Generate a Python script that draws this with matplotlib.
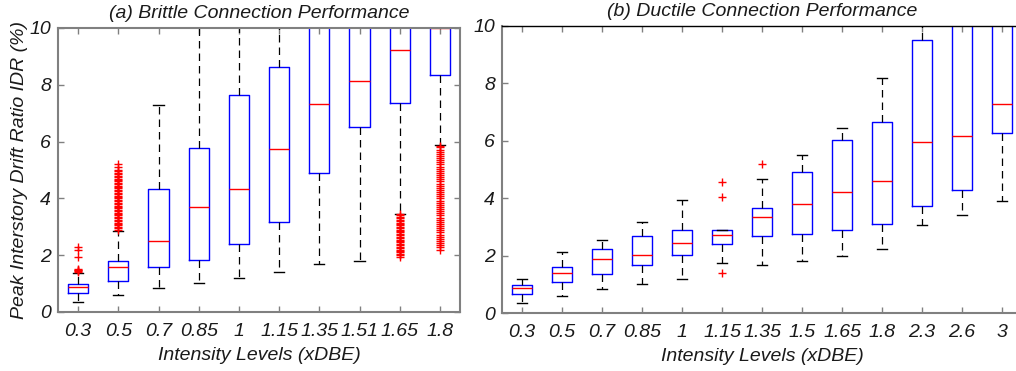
import numpy as np
import matplotlib
matplotlib.use("Agg")
from matplotlib import pyplot as plt

plt.rcParams["font.family"] = ["Liberation Sans", "DejaVu Sans"]
plt.rcParams["font.style"] = "italic"

# (a) brittle connections
levels_a = ["0.3", "0.5", "0.7", "0.85", "1", "1.15", "1.35", "1.51", "1.65", "1.8"]
whislo_a = [0.36, 0.61, 0.85, 1.02, 1.21, 1.40, 1.69, 1.78, 3.46, 5.88]
q1_a = [0.66, 1.10, 1.58, 1.82, 2.39, 3.16, 4.90, 6.52, 7.37, 8.33]
med_a = [0.89, 1.57, 2.51, 3.69, 4.32, 5.75, 7.32, 8.14, 9.24, 10.0]
q3_a = [0.97, 1.81, 4.34, 5.79, 7.65, 8.62, 11.5, 11.5, 11.5, 11.5]
whishi_a = [1.38, 2.85, 7.30, 13.0, 13.0, 13.0, 14.0, 14.0, 14.0, 14.0]
fliers_a = [
    [1.42, 1.45, 1.47, 1.49, 1.51, 1.95, 2.20, 2.30],
    [2.90, 2.95, 3.00, 3.05, 3.10, 3.15, 3.20, 3.25, 3.30, 3.35, 3.40, 3.45,
     3.50, 3.55, 3.60, 3.65, 3.70, 3.75, 3.80, 3.85, 3.90, 3.95, 4.00, 4.05,
     4.10, 4.15, 4.20, 4.25, 4.30, 4.35, 4.40, 4.45, 4.50, 4.55, 4.60, 4.65,
     4.70, 4.75, 4.80, 4.85, 4.90, 4.95, 5.00, 5.10, 5.20],
    [], [], [], [], [], [],
    [1.95, 2.00, 2.05, 2.10, 2.15, 2.20, 2.25, 2.30, 2.35, 2.40, 2.45, 2.50,
     2.55, 2.60, 2.65, 2.70, 2.75, 2.80, 2.85, 2.90, 2.95, 3.00, 3.05, 3.10,
     3.15, 3.20, 3.25, 3.30, 3.35, 3.40, 3.45],
    [2.20, 2.28, 2.35, 2.42, 2.50, 2.58, 2.65, 2.72, 2.80, 2.88, 2.95, 3.02,
     3.10, 3.18, 3.25, 3.32, 3.40, 3.48, 3.55, 3.62, 3.70, 3.78, 3.85, 3.92,
     4.00, 4.08, 4.15, 4.22, 4.30, 4.38, 4.45, 4.52, 4.60, 4.68, 4.75, 4.82,
     4.90, 4.98, 5.05, 5.12, 5.20, 5.28, 5.35, 5.42, 5.50, 5.58, 5.65, 5.72,
     5.80, 5.85],
]

# (b) ductile connections
levels_b = ["0.3", "0.5", "0.7", "0.85", "1", "1.15", "1.35", "1.5", "1.65", "1.8", "2.3", "2.6", "3"]
whislo_b = [0.36, 0.60, 0.84, 1.01, 1.18, 1.74, 1.68, 1.82, 1.97, 2.23, 3.05, 3.43, 3.90]
q1_b = [0.65, 1.09, 1.37, 1.68, 2.01, 2.39, 2.70, 2.75, 2.90, 3.09, 3.72, 4.30, 6.26]
med_b = [0.88, 1.40, 1.89, 2.01, 2.44, 2.73, 3.34, 3.81, 4.21, 4.61, 5.96, 6.18, 7.27]
q3_b = [0.96, 1.60, 2.24, 2.68, 2.90, 2.90, 3.65, 4.91, 6.03, 6.65, 9.51, 11.5, 11.5]
whishi_b = [1.18, 2.11, 2.55, 3.16, 3.94, 2.90, 4.66, 5.51, 6.43, 8.19, 13.0, 14.0, 14.0]
fliers_b = [[], [], [], [], [], [4.57, 4.03, 1.38], [5.20], [], [], [], [], [], []]

grey = "#808080"
txt = "#1a1a1a"
fs = 14


def stats(lo, q1, med, q3, hi, fl):
    return [dict(whislo=a, q1=b, med=c, q3=d, whishi=e, fliers=f)
            for a, b, c, d, e, f in zip(lo, q1, med, q3, hi, fl)]


def draw(ax, st, labels, title):
    ax.bxp(st, widths=0.5, capwidths=0.25, showfliers=True,
           boxprops=dict(color="blue", lw=1.0),
           medianprops=dict(color="red", lw=1.0),
           whiskerprops=dict(color="black", lw=0.9, ls=(0, (6, 4))),
           capprops=dict(color="black", lw=1.0),
           flierprops=dict(marker="+", markeredgecolor="red", markersize=6, mew=1.0, ls="none"))
    ax.set_xlim(0.5, len(labels) + 0.5)
    ax.set_ylim(0, 10)
    ax.set_yticks([0, 2, 4, 6, 8, 10])
    ax.set_xticks(range(1, len(labels) + 1))
    ax.set_xticklabels(labels)
    ax.tick_params(direction="in", length=4, width=1, color=grey, labelsize=fs,
                   labelcolor=txt, top=True, right=True)
    ax.tick_params(axis="x", pad=8)
    ax.tick_params(axis="y", pad=5)
    for s in ax.spines.values():
        s.set_color(grey)
        s.set_linewidth(1.5)
    ax.set_title(title, fontsize=fs, color=txt, pad=7)
    ax.set_xlabel("Intensity Levels (xDBE)", fontsize=fs, color=txt, labelpad=5)


fig = plt.figure(figsize=(10.16, 3.71), dpi=100)
W, H = 1016, 371
ax1 = fig.add_axes([58 / W, (H - 312) / H, (460 - 58) / W, (312 - 28) / H])
ax2 = fig.add_axes([502 / W, (H - 313) / H, (1022 - 502) / W, (313 - 26) / H])

draw(ax1, stats(whislo_a, q1_a, med_a, q3_a, whishi_a, fliers_a), levels_a,
     "(a) Brittle Connection Performance")
draw(ax2, stats(whislo_b, q1_b, med_b, q3_b, whishi_b, fliers_b), levels_b,
     "(b) Ductile Connection Performance")
ax2.spines["top"].set_color("black")
ax2.spines["top"].set_linewidth(1.0)

ax1.set_ylabel("Peak Interstory Drift Ratio IDR (%)", fontsize=fs, color=txt, labelpad=1)

fig.savefig("out.png", dpi=100)
